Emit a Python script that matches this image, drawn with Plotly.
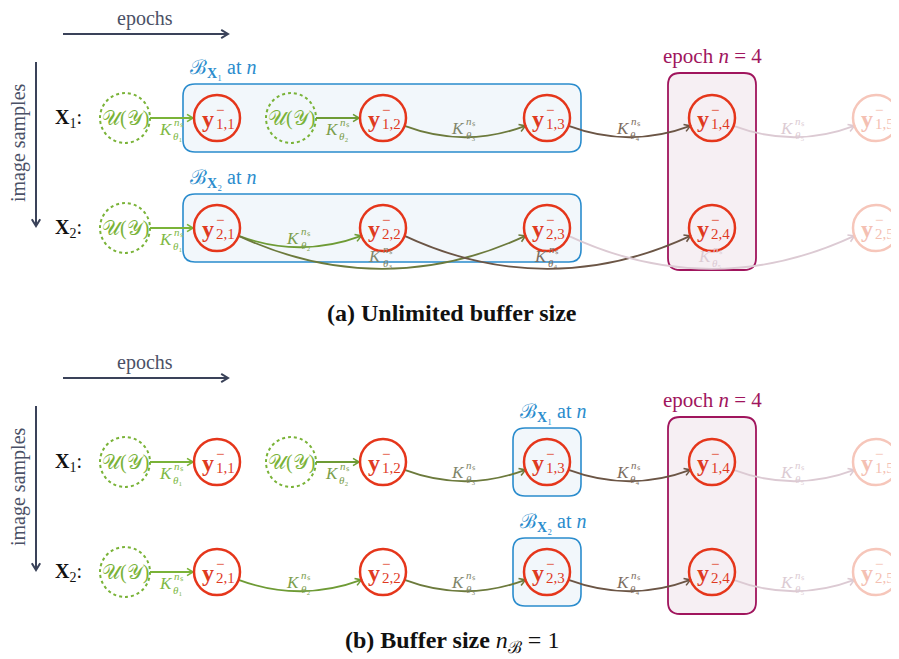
import math
import plotly.graph_objects as go

# ---------------- data ----------------
samples = [1, 2]                 # image samples X_1, X_2
epochs = [1, 2, 3, 4, 5]
current_epoch = 4                # "epoch n = 4"

# transitions: (sample, source epoch, target epoch, kernel theta index)
# source None -> fresh draw from U(Y)
edges_unlimited = [
    (1, None, 1, 1), (1, None, 2, 2), (1, 2, 3, 3), (1, 3, 4, 4), (1, 4, 5, 5),
    (2, None, 1, 1), (2, 1, 2, 2), (2, 1, 3, 3), (2, 2, 4, 4), (2, 3, 5, 5),
]
edges_buffer1 = [
    (1, None, 1, 1), (1, None, 2, 2), (1, 2, 3, 3), (1, 3, 4, 4), (1, 4, 5, 5),
    (2, None, 1, 1), (2, 1, 2, 2), (2, 2, 3, 3), (2, 3, 4, 4), (2, 4, 5, 5),
]
# epochs held in each sample's buffer B_X at epoch n
buffer_unlimited = [1, 2, 3]
buffer_size1 = [3]

captions = ["<b>(a) Unlimited buffer size</b>",
            "<b>(b) Buffer size</b> <i>n</i><sub>ℬ</sub> = 1"]

# ---------------- layout constants ----------------
COL_X = [217, 383, 547, 712, 876]
ROW_Y = [118, 228]
PANEL_DY = [0, 344]
CAPTION_Y = [313, 642]
R = 23
RU = 25
U_OFF = 92
SERIF = "Liberation Serif"
PAGE_PAD = 8   # browser body margin

EDGE_COL = {1: "#7ab338", 2: "#6e9b35", 3: "#6c7a3c", 4: "#6b5545", 5: "#dccad3"}
LBL_COL = {1: "#80b945", 2: "#7c9e4c", 3: "#80856a", 4: "#7d6d60", 5: "#dccbd3"}
RED, RED_TXT = "#e5361b", "#df3a1f"
FAINT, FAINT_TXT = "#f6c6ba", "#f4c0b2"
BLUE, BLUE_FILL = "#2a8ccd", "#f2f7fb"
PURP, PURP_FILL = "#a0155d", "#f6eff3"
NAVY = "#3a4259"

fig = go.Figure()
shapes, annots = [], []


def text(x, y, s, size, color="#222", **kw):
    annots.append(dict(x=x, y=y, text=s, showarrow=False, xref="x", yref="y",
                       font=dict(family=SERIF, size=size, color=color), **kw))


def chevron(tx, ty, ang, color, w, L=7):
    s = 0.55
    p1 = (tx - L * math.cos(ang - s), ty - L * math.sin(ang - s))
    p2 = (tx - L * math.cos(ang + s), ty - L * math.sin(ang + s))
    shapes.append(dict(type="path", xref="x", yref="y",
                       path=f"M{p1[0]},{p1[1]} L{tx},{ty} L{p2[0]},{p2[1]}",
                       line=dict(color=color, width=w)))


def rbox(x0, y0, x1, y1, r, color, fill, w):
    p = (f"M{x0+r},{y0} L{x1-r},{y0} Q{x1},{y0} {x1},{y0+r} L{x1},{y1-r} "
         f"Q{x1},{y1} {x1-r},{y1} L{x0+r},{y1} Q{x0},{y1} {x0},{y1-r} "
         f"L{x0},{y0+r} Q{x0},{y0} {x0+r},{y0} Z")
    shapes.append(dict(type="path", xref="x", yref="y", path=p,
                       line=dict(color=color, width=w), fillcolor=fill))


def klabel(x, y, k, color):
    text(x, y, "<i>K</i>", 17, color)
    text(x + 13, y - 7, "<i>n</i>ₛ", 11, color)
    text(x + 12, y + 7, "<i>θ</i>" + "₁₂₃₄₅"[k - 1], 11, color)


def node(x, y, i, j, faint):
    sc, tc = (FAINT, FAINT_TXT) if faint else (RED, RED_TXT)
    shapes.append(dict(type="circle", xref="x", yref="y", x0=x - R, x1=x + R,
                       y0=y - R, y1=y + R, line=dict(color=sc, width=2.5)))
    text(x - 9, y + 1, "<b>y</b>", 24, tc)
    text(x + 3, y - 8, "−", 15, tc)
    text(x + 8, y + 6, f"{i},{j}", 15, tc)


def unode(x, y):
    shapes.append(dict(type="circle", xref="x", yref="y", x0=x - RU, x1=x + RU,
                       y0=y - RU, y1=y + RU,
                       line=dict(color="#7ab338", width=2, dash="dot")))
    text(x, y, "𝒰(𝒴)", 20, "#7ab338")


panels = [(edges_unlimited, buffer_unlimited), (edges_buffer1, buffer_size1)]
for p, (edges, buf) in enumerate(panels):
    dy = PANEL_DY[p]
    rows = [ry + dy for ry in ROW_Y]

    # axis arrows
    shapes.append(dict(type="line", xref="x", yref="y", x0=63, x1=227,
                       y0=34 + dy, y1=34 + dy, line=dict(color=NAVY, width=2)))
    chevron(228, 34 + dy, 0, NAVY, 2, 8)
    text(145, 18 + dy, "epochs", 20, "#4b5166")
    shapes.append(dict(type="line", xref="x", yref="y", x0=36, x1=36,
                       y0=62 + dy, y1=225 + dy, line=dict(color=NAVY, width=2)))
    chevron(36, 226 + dy, math.pi / 2, NAVY, 2, 8)
    text(18, 143 + dy, "image samples", 20, "#4b5166", textangle=-90)

    # buffers
    for s in samples:
        ry = rows[s - 1]
        bx0 = COL_X[buf[0] - 1] - 34
        bx1 = COL_X[buf[-1] - 1] + 34
        rbox(bx0, ry - 34, bx1, ry + 34, 12, BLUE, BLUE_FILL, 1.6)
        text(bx0 + 5, ry - 50, f"ℬ<sub><b>X</b>{'₁₂'[s-1]}</sub> at <i>n</i>", 20,
             BLUE, xanchor="left")

    # current epoch box
    cx = COL_X[current_epoch - 1]
    rbox(cx - 44, rows[0] - 45, cx + 44, rows[1] + 42, 12, PURP, PURP_FILL, 1.8)
    text(cx, rows[0] - 62, "epoch <i>n</i> = 4", 21, PURP)

    # edges
    for (s, src, dst, k) in edges:
        ry = rows[s - 1]
        col = EDGE_COL[k]
        xt = COL_X[dst - 1]
        if src is None:
            ux = xt - U_OFF
            unode(ux, ry)
            x0, x1 = ux + RU, xt - R - 1
            shapes.append(dict(type="line", xref="x", yref="y", x0=x0, x1=x1,
                               y0=ry, y1=ry, line=dict(color=col, width=2)))
            chevron(x1, ry, 0, col, 1.6)
            klabel((x0 + x1) / 2 - 6, ry + 11, k, LBL_COL[k])
        else:
            xs = COL_X[src - 1]
            a = math.radians(20)
            P0 = (xs + R * math.cos(a), ry + R * math.sin(a))
            P3 = (xt - R * math.cos(a), ry + R * math.sin(a))
            span = P3[0] - P0[0]
            long_ = dst - src >= 2
            h = 44 if long_ else 15
            C1 = (P0[0] + 0.33 * span, P0[1] + h)
            C2 = (P3[0] - 0.33 * span, P3[1] + h)
            shapes.append(dict(type="path", xref="x", yref="y",
                               path=f"M{P0[0]},{P0[1]} C{C1[0]},{C1[1]} {C2[0]},{C2[1]} {P3[0]},{P3[1]}",
                               line=dict(color=col, width=1.8)))
            ang = math.atan2(P3[1] - C2[1], P3[0] - C2[0])
            chevron(P3[0], P3[1], ang, col, 1.6)
            mid = (xs + xt) / 2
            klabel(mid - 7, ry + (28 if long_ else 10), k, LBL_COL[k])

    # nodes
    for s in samples:
        ry = rows[s - 1]
        text(68, ry, f"<b>X</b><sub>{s}</sub>:", 20, "#111")
        for e in epochs:
            node(COL_X[e - 1], ry, s, e, e > current_epoch)

    text(452, CAPTION_Y[p], captions[p], 24, "#111")

fig.update_layout(shapes=shapes, annotations=annots,
                  width=899 - PAGE_PAD, height=659 - PAGE_PAD,
                  margin=dict(l=0, r=0, t=0, b=0), showlegend=False,
                  plot_bgcolor="white", paper_bgcolor="white")
fig.update_xaxes(range=[PAGE_PAD, 899], visible=False, fixedrange=True)
fig.update_yaxes(range=[659, PAGE_PAD], visible=False, fixedrange=True)
fig.write_html("out.html")
